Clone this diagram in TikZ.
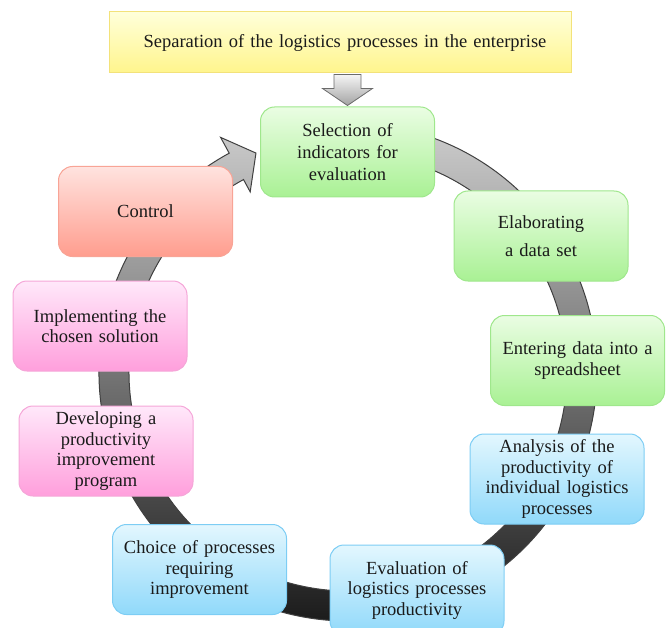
\documentclass[tikz,border=0pt]{standalone}
\usepackage{fontspec}
\setmainfont{Liberation Serif}
\usetikzlibrary{calc}
\definecolor{grnT}{HTML}{EAFDE3}
\definecolor{grnD}{HTML}{A9F194}
\definecolor{grnB}{HTML}{9FE78C}
\definecolor{bluT}{HTML}{E3F7FE}
\definecolor{bluD}{HTML}{90D9FA}
\definecolor{bluB}{HTML}{7DCDF4}
\definecolor{pnkT}{HTML}{FFE8FA}
\definecolor{pnkD}{HTML}{FF9FDC}
\definecolor{pnkB}{HTML}{F5A6D8}
\definecolor{redT}{HTML}{FFE3DF}
\definecolor{redD}{HTML}{FF9D8E}
\definecolor{redB}{HTML}{F8A496}
\definecolor{ylwT}{HTML}{FFFFDA}
\definecolor{ylwD}{HTML}{FFF58C}
\definecolor{ylwB}{HTML}{F3E27A}
\definecolor{txt}{HTML}{1A1A1A}
\begin{document}
\begin{tikzpicture}[x=1pt,y=1pt,
  box/.style={rounded corners=14pt, minimum width=174pt, minimum height=90pt,
    text width=168pt, align=center, inner sep=2pt, line width=1pt,
    text=txt, font=\fontsize{18.5}{20.5}\selectfont},
  greenbox/.style={box, draw=grnB, top color=grnT, bottom color=grnD},
  bluebox/.style={box, draw=bluB, top color=bluT, bottom color=bluD},
  pinkbox/.style={box, draw=pnkB, top color=pnkT, bottom color=pnkD},
  redbox/.style={box, draw=redB, top color=redT, bottom color=redD},
  topbox/.style={draw=ylwB, line width=1pt, top color=ylwT, bottom color=ylwD,
    minimum width=462pt, minimum height=61pt, text width=450pt, align=center,
    text=txt, font=\fontsize{18.5}{20.5}\selectfont},
  ring/.style={draw=black!75, line width=1pt, top color=black!20,
    middle color=black!45, bottom color=black!92},
  blockarrow/.style={draw=black!58, line width=0.8pt, top color=black!4, bottom color=black!36}
]
\useasboundingbox (0,0) rectangle (671,-628);
% circular band arrow
\begin{scope}[shift={(348,-372)}]
\path[ring] (80:249) arc[start angle=80, end angle=-241.5, radius=249]
  -- (118.5:267) -- (112.8:237.5) -- (118.5:205) -- (118.5:219)
  arc[start angle=-241.5, end angle=80, radius=219] -- cycle;
\end{scope}
% nodes
\node[topbox] (top) at (340,-42.5) {\raisebox{-3pt}{\hspace*{10pt}Separation of the logistics processes in the enterprise}};
\node[greenbox, font=\fontsize{18.5}{22}\selectfont] (sel) at (347.5,-152) {Selection of\\indicators for\\evaluation};
\node[greenbox] (elab) at (541,-236) {Elaborating\\[8pt]a data set};
\node[greenbox] (enter) at (577.5,-360.5) {Entering data into a\\spreadsheet};
\node[bluebox] (anal) at (557,-479) {Analysis of the\\productivity of\\individual logistics\\processes};
\node[bluebox] (eval) at (417,-590) {Evaluation of\\logistics processes\\productivity};
\node[bluebox] (choice) at (199.5,-569.5) {Choice of processes\\requiring\\improvement};
\node[pinkbox] (dev) at (106,-451) {Developing a\\productivity\\improvement\\program};
\node[pinkbox] (impl) at (100,-326) {Implementing the\\chosen solution};
\node[redbox] (control) at (145.5,-211.5) {Control};
% block arrow from banner to first step
\path (top.south -| sel.north) coordinate (ab) (sel.north) coordinate (at);
\path[blockarrow] ($(ab)+(-13.5,-1)$) -- ($(ab)+(13.5,-1)$) -- ($(ab)+(13.5,-15)$)
  -- ($(ab)+(25,-15)$) -- ($(at)+(0,1)$) -- ($(ab)+(-25,-15)$)
  -- ($(ab)+(-13.5,-15)$) -- cycle;
\end{tikzpicture}
\end{document}
